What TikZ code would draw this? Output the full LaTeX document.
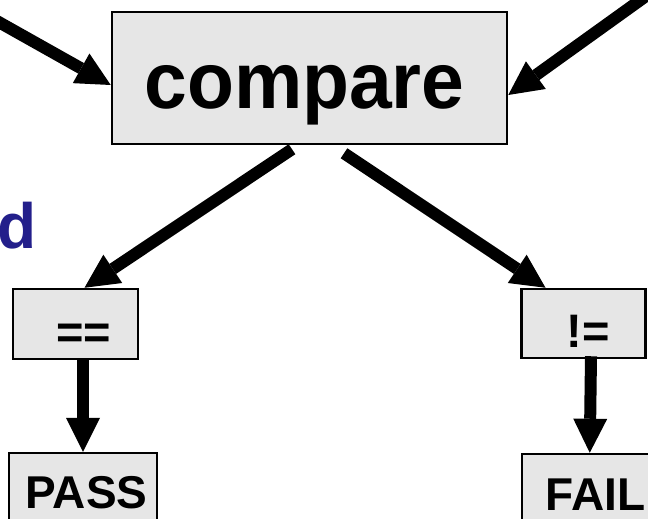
\documentclass[tikz,border=0pt]{standalone}
\usepackage{fontspec}
\setmainfont{Liberation Sans}
\usetikzlibrary{arrows.meta}
\definecolor{boxgray}{RGB}{230,230,230}
\definecolor{navytext}{RGB}{35,31,139}
\tikzset{
  box/.style={draw=black, fill=boxgray, line width=2.5pt, rectangle, inner sep=0pt},
  flow/.style={line width=12pt, line cap=butt,
    -{Triangle[length=34pt, width=34pt, line width=0pt]}},
  bigtxt/.style={inner sep=0pt, font=\fontsize{80}{90}\selectfont\bfseries},
  midtxt/.style={inner sep=0pt, font=\fontsize{47}{54}\selectfont\bfseries},
  lowtxt/.style={inner sep=0pt, font=\fontsize{46}{54}\selectfont\bfseries},
}
\begin{document}
\begin{tikzpicture}[x=1pt, y=-1pt]
  \useasboundingbox (0,0) rectangle (648,519);
  \clip (0,0) rectangle (648,519);

  % boxes
  \node[box, minimum width=395pt, minimum height=132pt] (cmp) at (309.5,78) {};
  \node[box, minimum width=125pt, minimum height=70pt] (eq) at (75.5,324) {};
  \node[box, minimum width=124pt, minimum height=69pt] (ne) at (583.5,323.5) {};
  \node[box, minimum width=148pt, minimum height=127pt] (pass) at (83,516.5) {};
  \node[box, minimum width=160pt, minimum height=127pt] (fail) at (602,517.5) {};

  % texts
  \node[bigtxt, anchor=base] (cmptxt) at (304.5,108) {\scalebox{0.96}[1]{compare}};
  \node[midtxt, anchor=base] (eqtxt) at (83.5,348) {==};
  \node[midtxt, anchor=base] (netxt) at (588.5,347) {!=};
  \node[lowtxt, anchor=base west] (passtxt) at (25.5,508) {PASS};
  \node[lowtxt, anchor=base west] (failtxt) at (545.6,510) {FAIL};
  \node[inner sep=0pt, anchor=base east, text=navytext,
        font=\fontsize{64}{72}\selectfont\bfseries] (dtxt) at (37,248) {d};

  % incoming ends beyond the frame
  \coordinate (inL) at (-40,0.3);
  \coordinate (inR) at (660,-14);

  % connectors
  \draw[flow] (inL) -- ([yshift=-7pt]cmp.west);
  \draw[flow] (inR) -- ([yshift=-17pt]cmp.east);
  \draw[flow] ([xshift=-17.5pt, yshift=-4pt]cmp.south) -- ([xshift=9pt]eq.north);
  \draw[flow] ([xshift=34.5pt, yshift=-8pt]cmp.south) -- ([xshift=-38pt]ne.north);
  \draw[flow] ([xshift=7.5pt]eq.south) -- (pass.north);
  \draw[flow] ([xshift=7.5pt, yshift=3pt]ne.south) -- ([xshift=69pt]fail.north west);
\end{tikzpicture}
\end{document}
